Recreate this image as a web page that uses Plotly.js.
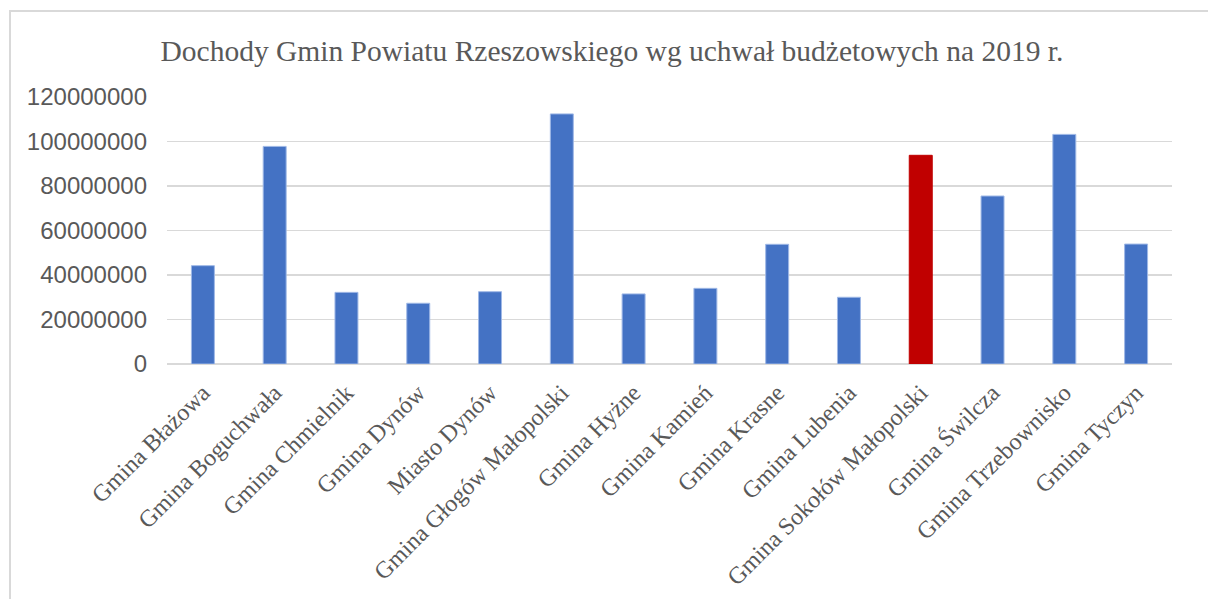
<!DOCTYPE html>
<html>
<head>
<meta charset="utf-8">
<script src="https://cdn.plot.ly/plotly-3.0.1.min.js"></script>
<style>
  body { margin: 0; background: #fff; }
  #frame { position: absolute; left: 9px; top: 10px; width: 1300px; height: 700px;
           border: 2px solid #d9d9d9; box-sizing: border-box; }
  #chart { position: absolute; left: 0; top: 0; width: 1208px; height: 599px; }
</style>
</head>
<body>
<div id="frame"></div>
<div id="chart"></div>
<script>
  const gminy = [
    'Gmina Błażowa', 'Gmina Boguchwała', 'Gmina Chmielnik', 'Gmina Dynów',
    'Miasto Dynów', 'Gmina Głogów Małopolski', 'Gmina Hyżne', 'Gmina Kamień',
    'Gmina Krasne', 'Gmina Lubenia', 'Gmina Sokołów Małopolski', 'Gmina Świlcza',
    'Gmina Trzebownisko', 'Gmina Tyczyn'
  ];
  const dochody = [
    44200000, 97800000, 32200000, 27300000,
    32500000, 112400000, 31500000, 34000000,
    53800000, 30000000, 93800000, 75500000,
    103200000, 53900000
  ];
  const highlighted = 'Gmina Sokołów Małopolski';
  const yTicks = [0, 20000000, 40000000, 60000000, 80000000, 100000000, 120000000];

  const colors = gminy.map(g => g === highlighted ? '#c00000' : '#4472c4');
  const edges = gminy.map(g => g === highlighted ? '#c00000' : '#9fb8e6');

  const trace = {
    x: gminy,
    y: dochody,
    type: 'bar',
    marker: { color: colors, line: { color: edges, width: 1 } },
    hoverinfo: 'x+y'
  };

  const layout = {
    width: 1208,
    height: 599,
    paper_bgcolor: 'rgba(0,0,0,0)',
    plot_bgcolor: 'rgba(0,0,0,0)',
    margin: { l: 167, r: 36, t: 97, b: 235 },
    bargap: 0.68,
    showlegend: false,
    title: {
      text: 'Dochody Gmin Powiatu Rzeszowskiego wg uchwał budżetowych na 2019 r.',
      font: { family: 'Liberation Serif, Times New Roman, serif', size: 29.5, color: '#595959' },
      x: 0.5066,
      xanchor: 'center',
      yref: 'container',
      y: 0.916,
      yanchor: 'middle'
    },
    xaxis: {
      type: 'category',
      tickangle: -45,
      tickfont: { family: 'Liberation Serif, Times New Roman, serif', size: 24, color: '#595959' },
      showgrid: false,
      showline: false,
      ticks: '',
      ticklabelstandoff: 9,
      automargin: false
    },
    yaxis: {
      range: [0, 120000000],
      tickvals: yTicks,
      ticktext: yTicks.map(v => String(v)),
      tickfont: { family: 'Liberation Sans, Arial, sans-serif', size: 24, color: '#595959' },
      showgrid: true,
      gridcolor: '#d9d9d9',
      gridwidth: 1.5,
      zeroline: true,
      zerolinecolor: '#d9d9d9',
      zerolinewidth: 1.5,
      showline: false,
      ticks: '',
      ticklabelstandoff: 19,
      automargin: false
    }
  };

  Plotly.newPlot('chart', [trace], layout, { displayModeBar: false, staticPlot: true });
</script>
</body>
</html>
